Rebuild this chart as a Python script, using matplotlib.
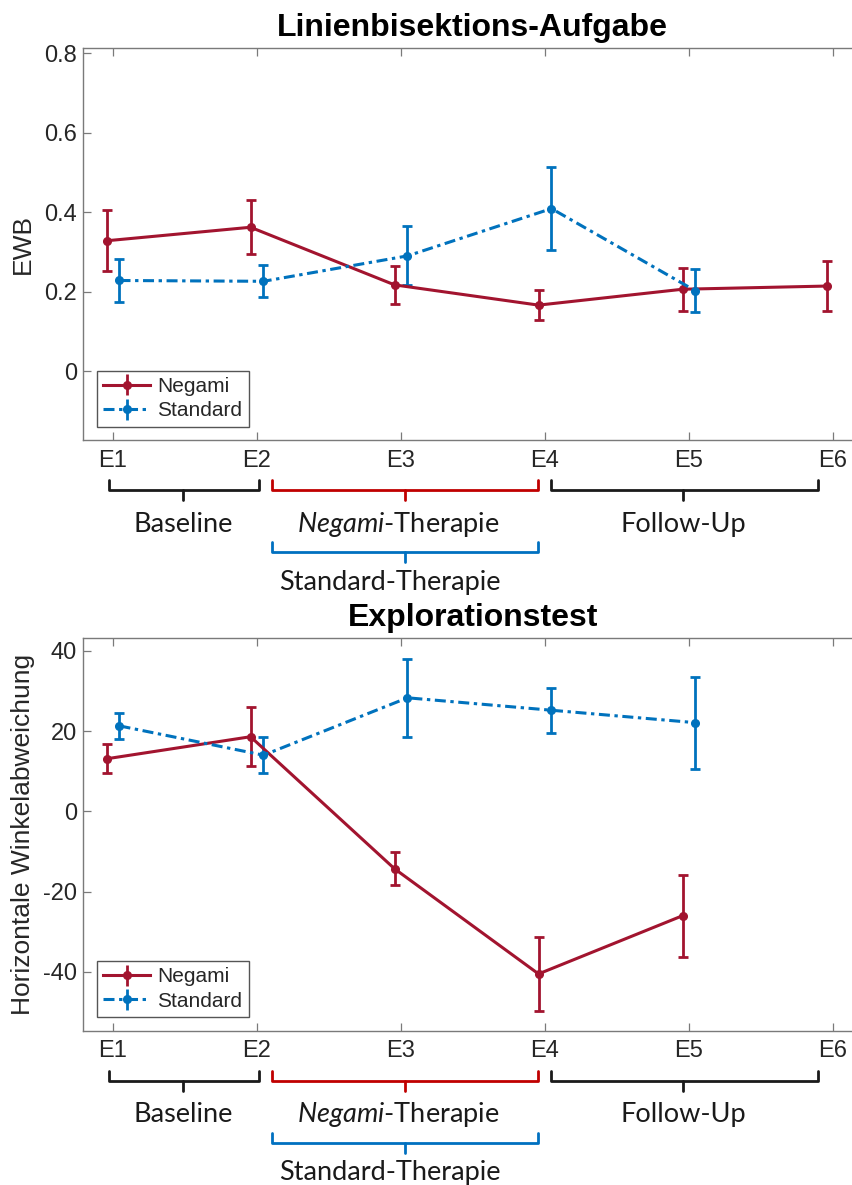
import matplotlib
matplotlib.use("Agg")
import matplotlib.pyplot as plt
from matplotlib.lines import Line2D
from matplotlib import transforms

# ---- data -----------------------------------------------------------------
sessions = ["E1", "E2", "E3", "E4", "E5", "E6"]

# Linienbisektions-Aufgabe (EWB)
lb_negami_mean = [0.328, 0.362, 0.217, 0.166, 0.206, 0.214]
lb_negami_err = [0.077, 0.068, 0.047, 0.038, 0.054, 0.062]
lb_standard_mean = [0.228, 0.226, 0.290, 0.409, 0.202]
lb_standard_err = [0.055, 0.040, 0.074, 0.104, 0.054]

# Explorationstest (horizontale Winkelabweichung)
ex_negami_mean = [13.1, 18.6, -14.3, -40.5, -26.0]
ex_negami_err = [3.6, 7.3, 4.15, 9.2, 10.25]
ex_standard_mean = [21.3, 14.0, 28.3, 25.2, 22.1]
ex_standard_err = [3.15, 4.5, 9.7, 5.65, 11.5]

phase_labels = ["Baseline", r"$\mathit{Negami}$-Therapie", "Follow-Up", "Standard-Therapie"]

# ---- style ------------------------------------------------------------------
NEG_COLOR = "#A2142F"
STD_COLOR = "#0072BD"
AXIS_COLOR = "#7a7a7a"
TEXT_COLOR = "#262626"
DASHDOT = (0, (3.6, 1.5, 1.1, 1.5))
LW = 2.2
ELW = 2.0
CAP = 3.8
MS = 5.5

plt.rcParams["font.family"] = ["Liberation Sans", "DejaVu Sans"]
plt.rcParams["mathtext.fontset"] = "custom"
plt.rcParams["mathtext.it"] = "Lato:italic"
plt.rcParams["mathtext.rm"] = "Lato"

W, H = 853, 1185
DPI = 100
fig = plt.figure(figsize=(W / DPI, H / DPI), dpi=DPI)

XLIM = (0.795, 6.2)
PX_PER_UNIT = 144.0
AX_LEFT_PX = 83.5
AX_W_PX = (XLIM[1] - XLIM[0]) * PX_PER_UNIT
AX_H_PX = 392.5
OFFSET = 0.045


def make_axes(top_px):
    bottom_px = top_px + AX_H_PX
    return fig.add_axes([AX_LEFT_PX / W, 1 - bottom_px / H, AX_W_PX / W, AX_H_PX / H])


def style_axes(ax, ylim, yticks, yticklabels, ylabel, title):
    ax.set_xlim(*XLIM)
    ax.set_ylim(*ylim)
    ax.set_xticks(range(1, len(sessions) + 1))
    ax.set_xticklabels(sessions)
    ax.set_yticks(yticks)
    ax.set_yticklabels(yticklabels)
    ax.tick_params(direction="in", length=6, width=0.9, color=AXIS_COLOR,
                   labelsize=17, labelcolor=TEXT_COLOR, top=True, right=True)
    ax.tick_params(axis="x", pad=7)
    ax.tick_params(axis="y", pad=4.5)
    for sp in ax.spines.values():
        sp.set_color(AXIS_COLOR)
        sp.set_linewidth(1.0)
    ax.set_ylabel(ylabel, fontsize=19, color=TEXT_COLOR)
    ax.yaxis.label.set_va("center")
    ax.yaxis.set_label_coords((23 - AX_LEFT_PX) / AX_W_PX, 0.5)
    ax.set_title(title, fontsize=23, fontweight="bold", color="black", pad=8.5)


def plot_series(ax, mean, err, color, ls, off):
    x = [i + 1 + off for i in range(len(mean))]
    ax.errorbar(x, mean, yerr=err, color=color, ecolor=color, linestyle=ls,
                linewidth=LW, elinewidth=ELW, capsize=CAP, capthick=ELW,
                marker="o", markersize=MS)


def draw_legend(ax):
    handles = [
        ax.errorbar([], [], yerr=[], color=NEG_COLOR, linestyle="-", linewidth=LW,
                    elinewidth=ELW, capsize=CAP, capthick=ELW, marker="o", markersize=MS),
        ax.errorbar([], [], yerr=[], color=STD_COLOR, linestyle=DASHDOT, linewidth=LW,
                    elinewidth=ELW, capsize=CAP, capthick=ELW, marker="o", markersize=MS),
    ]
    leg = ax.legend(handles, ["Negami", "Standard"], loc="lower left", fontsize=15,
                    frameon=True, fancybox=False, framealpha=1, edgecolor="#555555",
                    borderaxespad=0.65, borderpad=0.3, labelspacing=0.25,
                    handlelength=2.25, handletextpad=0.35)
    leg.get_frame().set_linewidth(1.0)
    for t in leg.get_texts():
        t.set_color(TEXT_COLOR)


def draw_brace(ax, x0, x1, xc, d_end, d_line, d_tip, color):
    # y distances are pixels below the bottom spine
    tr = transforms.blended_transform_factory(ax.transData, ax.transAxes)
    f = lambda d: -d / AX_H_PX
    ax.add_line(Line2D([x0, x0, x1, x1], [f(d_end), f(d_line), f(d_line), f(d_end)],
                       transform=tr, color=color, linewidth=2.0, clip_on=False,
                       solid_joinstyle="round", solid_capstyle="round"))
    ax.add_line(Line2D([xc, xc], [f(d_line), f(d_tip)], transform=tr, color=color,
                       linewidth=2.0, clip_on=False, solid_capstyle="round"))


def draw_phases(ax):
    tr = transforms.blended_transform_factory(ax.transData, ax.transAxes)
    f = lambda d: -d / AX_H_PX
    draw_brace(ax, 0.972, 2.014, 1.486, 40, 50, 60, "#1a1a1a")
    draw_brace(ax, 2.104, 3.951, 3.028, 40, 50, 60, "#C00000")
    draw_brace(ax, 4.042, 5.896, 4.958, 40, 50, 60, "#1a1a1a")
    draw_brace(ax, 2.104, 3.951, 3.028, 102, 112, 122, "#0070C0")
    kw = dict(transform=tr, ha="center", va="center", fontsize=19.5,
              family="Lato", color="#1a1a1a", clip_on=False)
    ax.text(1.486, f(84), phase_labels[0], **kw)
    ax.text(2.98, f(84), phase_labels[1], **kw)
    ax.text(4.958, f(84), phase_labels[2], **kw)
    ax.text(2.92, f(142), phase_labels[3], **kw)


# ---- top panel ------------------------------------------------------------
ax1 = make_axes(47.7)
plot_series(ax1, lb_negami_mean, lb_negami_err, NEG_COLOR, "-", -OFFSET)
plot_series(ax1, lb_standard_mean, lb_standard_err, STD_COLOR, DASHDOT, OFFSET)
style_axes(ax1, (-0.174, 0.814), [0, 0.2, 0.4, 0.6, 0.8], ["0", "0.2", "0.4", "0.6", "0.8"],
           "EWB", "Linienbisektions-Aufgabe")
draw_legend(ax1)
draw_phases(ax1)

# ---- bottom panel -----------------------------------------------------------
ax2 = make_axes(638.0)
plot_series(ax2, ex_negami_mean, ex_negami_err, NEG_COLOR, "-", -OFFSET)
plot_series(ax2, ex_standard_mean, ex_standard_err, STD_COLOR, DASHDOT, OFFSET)
style_axes(ax2, (-54.6, 43.2), [-40, -20, 0, 20, 40], ["-40", "-20", "0", "20", "40"],
           "Horizontale Winkelabweichung", "Explorationstest")
draw_legend(ax2)
draw_phases(ax2)

fig.savefig("out.png", dpi=DPI)
